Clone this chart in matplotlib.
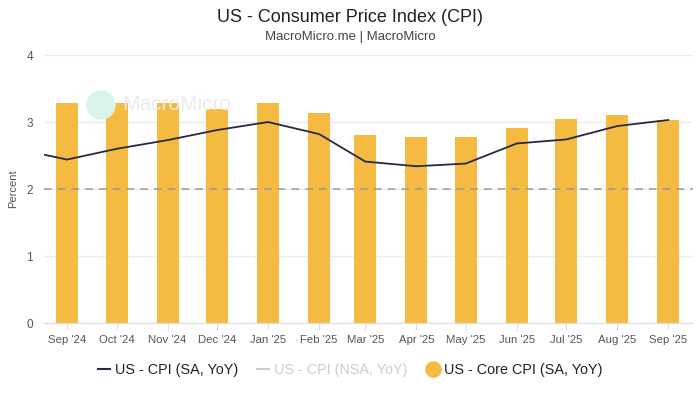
import numpy as np
import pandas as pd
import matplotlib
matplotlib.use("Agg")
import matplotlib.pyplot as plt
from matplotlib.lines import Line2D
from matplotlib.patches import Circle

plt.rcParams['font.family'] = ['Liberation Sans', 'DejaVu Sans']

# data
months = ["2024-08", "2024-09", "2024-10", "2024-11", "2024-12", "2025-01", "2025-02",
          "2025-03", "2025-04", "2025-05", "2025-06", "2025-07", "2025-08", "2025-09"]
cpi_sa = [2.60, 2.44, 2.60, 2.73, 2.88, 3.00, 2.82, 2.41, 2.34, 2.38, 2.68, 2.74, 2.94, 3.03]
core_months = months[1:]
core_cpi = [3.29, 3.29, 3.28, 3.20, 3.29, 3.14, 2.81, 2.78, 2.77, 2.91, 3.05, 3.11, 3.03]
tick_labels = ["Sep '24", "Oct '24", "Nov '24", "Dec '24", "Jan '25", "Feb '25", "Mar '25",
               "Apr '25", "May '25", "Jun '25", "Jul '25", "Aug '25", "Sep '25"]

dates = pd.to_datetime(months)
core_dates = pd.to_datetime(core_months)

bar_col = "#F5BA42"
line_col = "#262a3f"

fig = plt.figure(figsize=(7, 3.93), dpi=100)
ax = fig.add_axes([0.063, 0.178, 0.927, 0.682])

ax.bar(core_dates, core_cpi, width=13.3, color=bar_col, zorder=2)
ax.plot(dates, cpi_sa, color=line_col, lw=1.3, zorder=4)
ax.axhline(2, color="#999999", lw=1.1, ls=(0, (5, 4)), zorder=3)

ax.set_xlim(pd.Timestamp("2024-08-18"), pd.Timestamp("2025-09-16"))
ax.set_ylim(0, 4)
ax.set_yticks([0, 1, 2, 3, 4])
ax.yaxis.grid(True, color="#ececec", lw=1, zorder=0)
ax.set_axisbelow(True)
ax.set_xticks(core_dates)
ax.set_xticklabels(tick_labels)
ax.tick_params(axis='x', colors="#dddddd", length=5, labelcolor="#555555", labelsize=8.2)
ax.tick_params(axis='y', length=0, labelcolor="#555555", labelsize=8.5, pad=8)
for s in ["top", "right", "left"]:
    ax.spines[s].set_visible(False)
ax.spines["bottom"].set_color("#dddddd")
ax.set_ylabel("Percent", color="#555555", fontsize=8, labelpad=6)

# watermark
fig.patches.append(Circle((101, 393 - 105), 14, transform=None, color="#d9f5ea", zorder=1))
fig.text(122 / 700, 1 - 105 / 393, "MacroMicro", fontsize=15, color="#ebebeb",
         va="center", ha="left", zorder=1)

fig.text(0.5, 1 - 17 / 393, "US - Consumer Price Index (CPI)", ha="center", va="center",
         fontsize=13, color="#222222")
fig.text(0.5, 1 - 37 / 393, "MacroMicro.me | MacroMicro", ha="center", va="center",
         fontsize=9.5, color="#444444")

handles = [Line2D([], [], color=line_col, lw=1.5),
           Line2D([], [], color="#cccccc", lw=1.5),
           Line2D([], [], color=bar_col, marker='o', ls='none', markersize=11)]
labels = ["US - CPI (SA, YoY)", "US - CPI (NSA, YoY)", "US - Core CPI (SA, YoY)"]
leg = fig.legend(handles, labels, loc="center", bbox_to_anchor=(0.5, 1 - 370 / 393), ncol=3,
                 frameon=False, fontsize=10.4, handlelength=0.85, handletextpad=0.35,
                 columnspacing=1.3)
for t, c in zip(leg.get_texts(), ["#222222", "#cccccc", "#222222"]):
    t.set_color(c)

fig.savefig("out.png", dpi=100)
